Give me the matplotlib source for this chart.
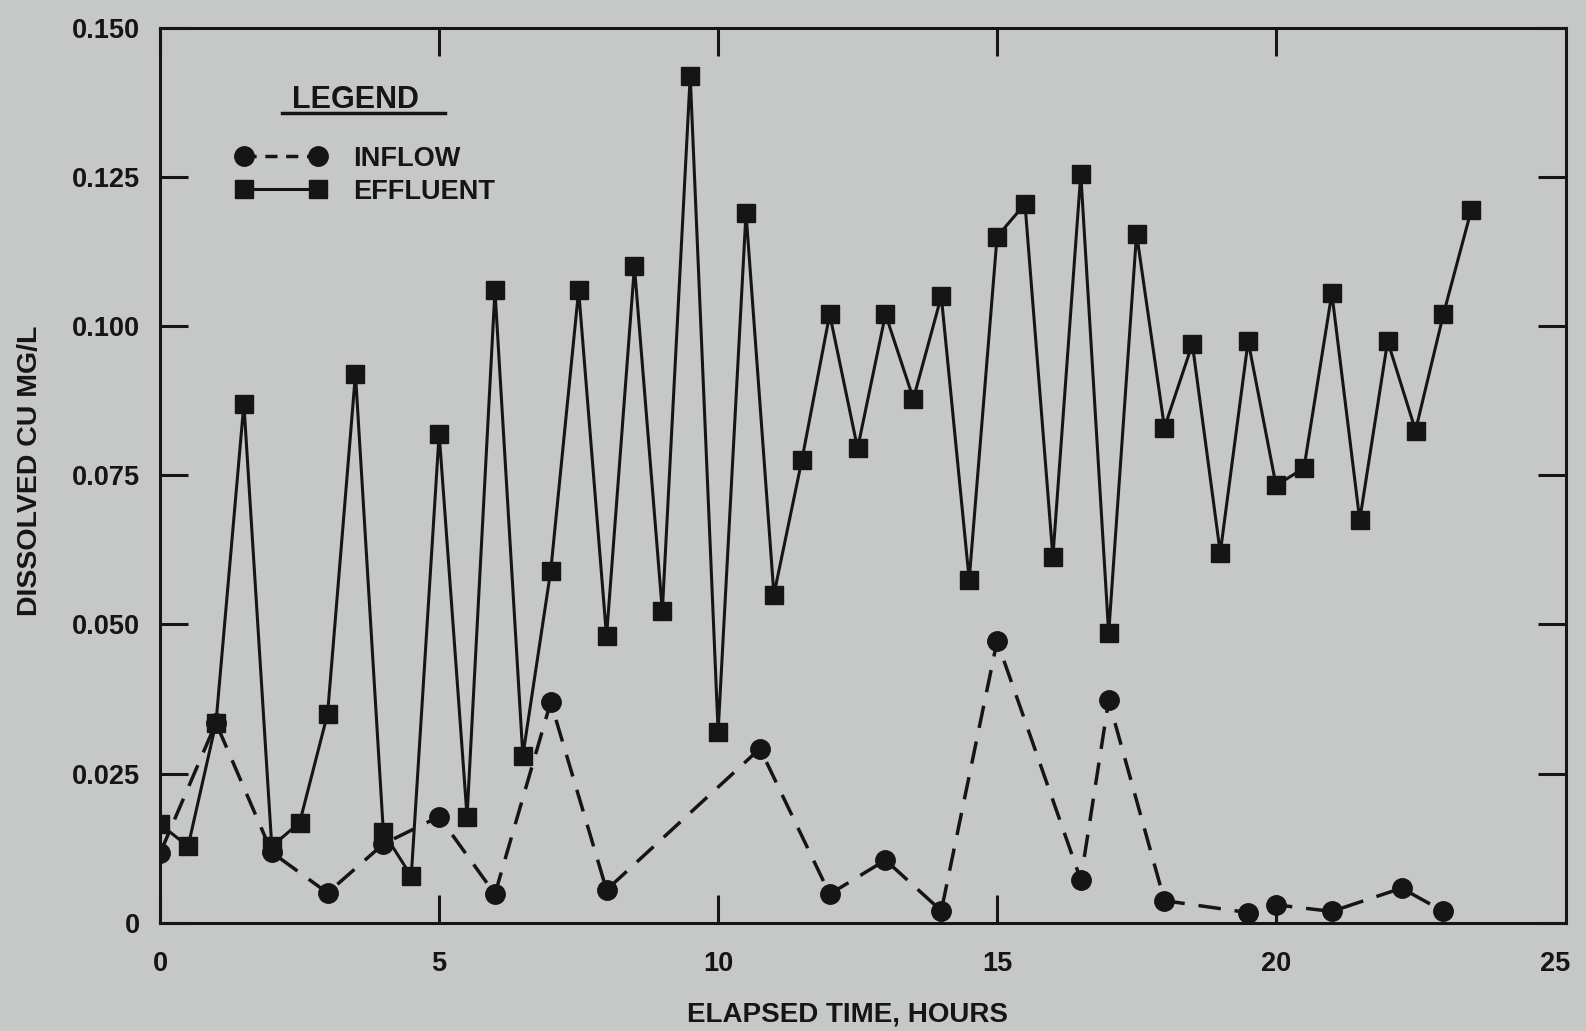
import matplotlib
matplotlib.use("Agg")
import matplotlib.pyplot as plt
from matplotlib.lines import Line2D

# data (hours, mg/L)
effluent_hours = [0, 0.5, 1, 1.5, 2, 2.5, 3, 3.5, 4, 4.5, 5, 5.5, 6, 6.5, 7, 7.5,
                  8, 8.5, 9, 9.5, 10, 10.5, 11, 11.5, 12, 12.5, 13, 13.5, 14, 14.5,
                  15, 15.5, 16, 16.5, 17, 17.5, 18, 18.5, 19, 19.5, 20, 20.5, 21,
                  21.5, 22, 22.5, 23, 23.5]
effluent_cu = [0.0165, 0.0128, 0.0335, 0.087, 0.0128, 0.0168, 0.035, 0.092, 0.0152,
               0.0078, 0.082, 0.0178, 0.106, 0.028, 0.059, 0.106, 0.048, 0.110,
               0.0522, 0.142, 0.032, 0.119, 0.055, 0.0775, 0.102, 0.0795, 0.102,
               0.0878, 0.105, 0.0575, 0.115, 0.1205, 0.0613, 0.1255, 0.0485, 0.1155,
               0.083, 0.097, 0.062, 0.0975, 0.0733, 0.0762, 0.1055, 0.0675, 0.0975,
               0.0825, 0.102, 0.1195]

inflow_hours = [0, 1, 2, 3, 4, 5, 6, 7, 8, 10.75, 12, 13, 14, 15, 16.5, 17, 18,
                19.5, 20, 21, 22.25, 23]
inflow_cu = [0.0117, 0.0335, 0.0118, 0.005, 0.0132, 0.0178, 0.0048, 0.037, 0.0055,
             0.0292, 0.0048, 0.0105, 0.002, 0.0472, 0.0072, 0.0373, 0.0037, 0.0017,
             0.003, 0.0019, 0.0058, 0.0019]

x_ticks = [0, 5, 10, 15, 20, 25]
y_ticks = [0, 0.025, 0.050, 0.075, 0.100, 0.125, 0.150]
y_labels = ["0", "0.025", "0.050", "0.075", "0.100", "0.125", "0.150"]

BG = "#c6c8c7"
INK = "#151515"

plt.rcParams['font.family'] = ['Liberation Sans', 'DejaVu Sans']

fig = plt.figure(figsize=(15.86, 10.31), dpi=100, facecolor=BG)
ax = fig.add_axes([0.101, 0.105, 0.8865, 0.868], facecolor=BG)

ax.plot(inflow_hours, inflow_cu, color=INK, lw=2.5, linestyle=(0, (6.5, 4)),
        marker='o', markersize=14, markerfacecolor=INK, markeredgecolor=INK)
ax.plot(effluent_hours, effluent_cu, color=INK, lw=2.2, linestyle='-',
        marker='s', markersize=13, markerfacecolor=INK, markeredgecolor=INK)

ax.set_xlim(0, 25.2)
ax.set_ylim(0, 0.150)
ax.set_xticks(x_ticks)
ax.set_yticks(y_ticks)
ax.set_yticklabels(y_labels)

for side in ax.spines.values():
    side.set_linewidth(2.2)
    side.set_color(INK)

ax.tick_params(axis='both', direction='in', length=20, width=2.2, colors=INK,
               top=True, right=True, labelsize=19.5)
ax.tick_params(axis='x', pad=20)
ax.tick_params(axis='y', pad=14.5)
for lab in ax.get_xticklabels() + ax.get_yticklabels():
    lab.set_fontweight('bold')
# no tick mark at 25, the frame ends just past it
last = ax.xaxis.get_major_ticks()[-1]
last.tick1line.set_visible(False)
last.tick2line.set_visible(False)

ax.set_xlabel("ELAPSED TIME, HOURS", fontsize=20, fontweight='bold', color=INK)
ax.xaxis.set_label_coords(0.489, -0.0875)
ax.set_ylabel("DISSOLVED CU MG/L", fontsize=20.5, fontweight='bold', color=INK)
ax.yaxis.set_label_coords(-0.0832, 0.505)

# legend block
ax.text(0.139, 0.910, "LEGEND", transform=ax.transAxes, ha='center', va='baseline',
        fontsize=22, fontweight='bold', color=INK)
ax.plot([0.0868, 0.2027], [0.9045, 0.9045], transform=ax.transAxes, color=INK,
        lw=2.5, clip_on=False)

handles = [
    Line2D([], [], color=INK, lw=2.5, linestyle=(0, (3.5, 2.5)), marker='o',
           markersize=14, markerfacecolor=INK, markeredgecolor=INK),
    Line2D([], [], color=INK, lw=2.2, linestyle='-', marker='s',
           markersize=13, markerfacecolor=INK, markeredgecolor=INK),
]
leg = ax.legend(handles, ["INFLOW", "EFFLUENT"], loc='upper left',
                bbox_to_anchor=(0.0535, 0.868), frameon=False, numpoints=2,
                borderpad=0, borderaxespad=0,
                handlelength=3.35, handletextpad=1.0, labelspacing=0.25,
                prop={'size': 19.5, 'weight': 'bold'})
for t in leg.get_texts():
    t.set_color(INK)

fig.savefig("out.png", dpi=100, facecolor=BG)
